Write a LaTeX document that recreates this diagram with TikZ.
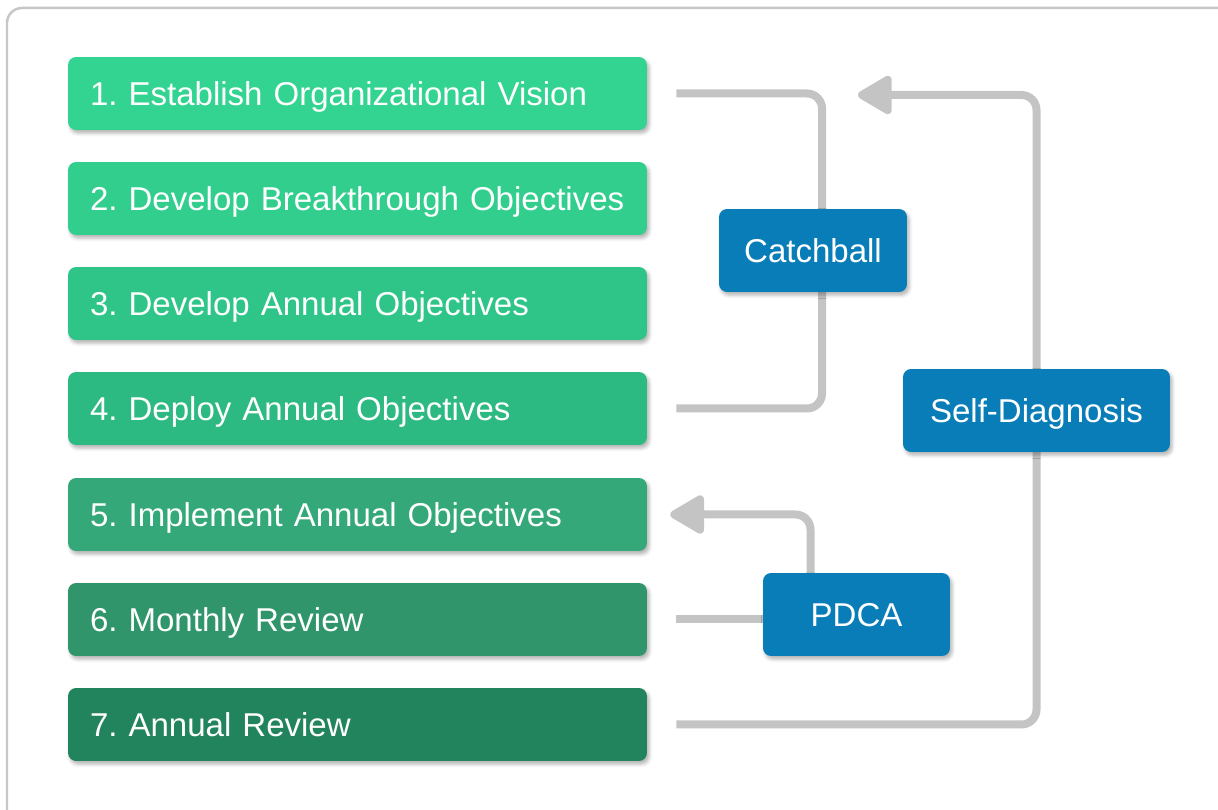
\documentclass[tikz,border=0pt]{standalone}
\usepackage{fontspec}
\setmainfont{Liberation Sans}
\usetikzlibrary{arrows.meta,calc,shadows.blur,backgrounds}

\definecolor{g1}{HTML}{33D391}
\definecolor{g2}{HTML}{31CE8D}
\definecolor{g3}{HTML}{2FC588}
\definecolor{g4}{HTML}{2DBA82}
\definecolor{g5}{HTML}{34A878}
\definecolor{g6}{HTML}{31956B}
\definecolor{g7}{HTML}{22845D}
\definecolor{loopblue}{HTML}{087DB8}
\definecolor{linkgray}{HTML}{C4C4C4}

\begin{document}
\begin{tikzpicture}[
  x=0.02cm, y=-0.02cm,
  font=\fontsize{18.8}{22}\selectfont\frenchspacing,
  soft/.style={blur shadow={shadow xshift=1.2pt, shadow yshift=-1.8pt,
               shadow blur radius=2pt, shadow opacity=30}},
  stage/.style={soft, rounded corners=0.16cm, text=white, align=left,
                text width=10.7cm, inner xsep=0.44cm, inner ysep=0pt,
                text height=0.475cm, text depth=0pt, minimum height=1.46cm},
  tool/.style={soft, rounded corners=0.16cm, fill=loopblue, text=white,
               inner xsep=0pt, inner ysep=0pt, text height=0.475cm, text depth=0pt,
               minimum height=1.66cm},
  link/.style={draw=linkgray, line width=0.16cm, rounded corners=0.3cm},
  tip/.style={link, -{Triangle[length=0.76cm, width=0.84cm, round]}}
]
\useasboundingbox (0,0) rectangle (1218,810);
\draw[black!22, line width=0.05cm, rounded corners=0.3cm] (7,810) -- (7,8) -- (1218,8);

\node[stage, fill=g1] (s1) at (357.5,93.5) {1. Establish Organizational Vision};
\node[stage, fill=g2] (s2) at (357.5,198.5) {2. Develop Breakthrough Objectives};
\node[stage, fill=g3] (s3) at (357.5,303.5) {3. Develop Annual Objectives};
\node[stage, fill=g4] (s4) at (357.5,408.5) {4. Deploy Annual Objectives};
\node[stage, fill=g5] (s5) at (357.5,514.5) {5. Implement Annual Objectives};
\node[stage, fill=g6] (s6) at (357.5,619.5) {6. Monthly Review};
\node[stage, fill=g7] (s7) at (357.5,724.5) {7. Annual Review};

\node[tool, minimum width=3.76cm] (cb) at (813,250.5) {Catchball};
\node[tool, minimum width=5.34cm] (sd) at (1036.5,410.5) {Self-Diagnosis};
\node[tool, minimum width=3.74cm] (pd) at (856.5,614.5) {PDCA};

\coordinate (cbx) at (822,0);
\coordinate (sdtip) at (858,95);

\begin{scope}[on background layer]
  \draw[link, shorten <=0.58cm, shorten >=0.58cm]
    (s1.east) -- (s1.east -| cbx) -- (s4.east -| cbx) -- (s4.east);
  \draw[tip, shorten <=0.58cm] (s7.east) -| (sd.center) |- (sdtip);
  \draw[link, shorten <=0.58cm] (s6.east) -- (s6.east -| pd.west);
  \draw[tip, shorten >=0.46cm] ($(pd.north)+(-46,0)$) |- (s5.east);
\end{scope}
\end{tikzpicture}
\end{document}
